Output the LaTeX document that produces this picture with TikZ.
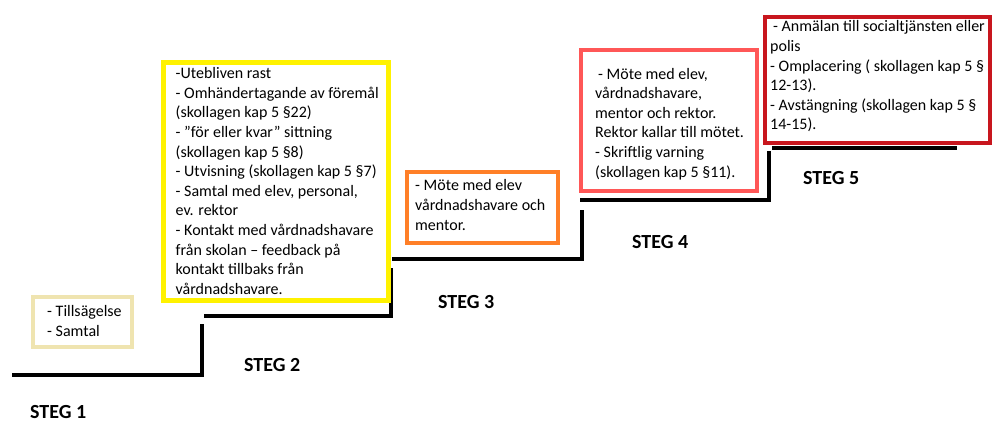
\documentclass[tikz,border=0pt]{standalone}
\usepackage{fontspec}
\setmainfont{Carlito}
\definecolor{beige}{HTML}{EFE4B0}
\definecolor{gul}{HTML}{FFF200}
\definecolor{orange}{HTML}{FF7F27}
\definecolor{rosa}{HTML}{FF5757}
\definecolor{morkrod}{HTML}{C8161E}
\begin{document}
\begin{tikzpicture}[x=1pt,y=-1pt,
  stair/.style={line width=4.5pt, line join=miter, line cap=butt},
  stepbox/.style={draw, line width=#1, rectangle, inner sep=0pt, anchor=north west},
  boxtext/.style={anchor=west, align=left, inner sep=0pt, font=\fontsize{16}{19.6}\selectfont},
  steglabel/.style={anchor=west, inner sep=0pt, font=\fontsize{20}{24}\selectfont\bfseries}]
\useasboundingbox[fill=white] (0,0) rectangle (992,423);

% stairs
\draw[stair] (12,375) -- (202,375) -- (202,324);
\draw[stair] (204,316) -- (391,316) -- (391,268);
\draw[stair] (392,259) -- (582,259) -- (582,210);
\draw[stair] (580,200) -- (769,200) -- (769,151);
\draw[stair] (772,148) -- (957,148);

% boxes
\node[stepbox=4pt, draw=beige, minimum width=99pt, minimum height=50pt] (b1) at (31,295) {};
\node[stepbox=5pt, draw=gul, minimum width=225pt, minimum height=238pt] (b2) at (160.5,59.5) {};
\node[stepbox=4pt, draw=orange, minimum width=151pt, minimum height=71pt] (b3) at (405,170) {};
\node[stepbox=4pt, draw=rosa, minimum width=176pt, minimum height=141pt] (b4) at (579,48) {};
\node[stepbox=4pt, draw=morkrod, minimum width=225pt, minimum height=126pt] (b5) at (763,15) {};

% texts
\node[boxtext] (t1) at (47,321) {- Tillsägelse\\- Samtal};
\node[boxtext] (t2) at (175.5,181) {-Utebliven rast\\
- Omhändertagande av föremål\\
(skollagen kap 5 §22)\\
- ”för eller kvar” sittning\\
(skollagen kap 5 §8)\\
- Utvisning (skollagen kap 5 §7)\\
- Samtal med elev, personal,\\
ev. rektor\\
- Kontakt med vårdnadshavare\\
från skolan – feedback på\\
kontakt tillbaks från\\
vårdnadshavare.};
\node[boxtext] (t3) at (415,205) {- Möte med elev\\vårdnadshavare och\\mentor.};
\node[boxtext] (t4) at (595,124) {\hspace*{3pt}- Möte med elev,\\
vårdnadshavare,\\
mentor och rektor.\\
Rektor kallar till mötet.\\
- Skriftlig varning\\
(skollagen kap 5 §11).};
\node[boxtext] (t5) at (770,76.5) {\hspace*{3pt}- Anmälan till socialtjänsten eller\\
polis\\
- Omplacering ( skollagen kap 5 §\\
12-13).\\
- Avstängning (skollagen kap 5 §\\
14-15).};

% labels
\node[steglabel] (s1) at (30,412.5) {STEG 1};
\node[steglabel] (s2) at (244,365) {STEG 2};
\node[steglabel] (s3) at (438,302) {STEG 3};
\node[steglabel] (s4) at (632,242) {STEG 4};
\node[steglabel] (s5) at (803,178) {STEG 5};
\end{tikzpicture}
\end{document}
